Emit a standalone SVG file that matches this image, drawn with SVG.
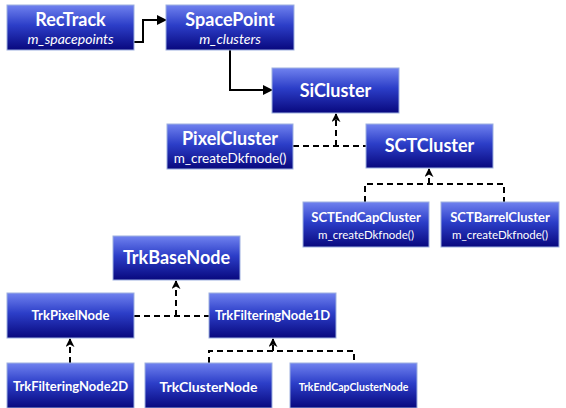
<svg xmlns="http://www.w3.org/2000/svg" width="566" height="408" viewBox="0 0 566 408">
  <defs>
    <linearGradient id="boxFill" x1="0" y1="0" x2="0" y2="1">
      <stop offset="0" stop-color="#7082ef"/>
      <stop offset="0.45" stop-color="#2c3ec8"/>
      <stop offset="1" stop-color="#08087e"/>
    </linearGradient>
    <marker id="arrow" viewBox="0 0 10 10" refX="9" refY="5" markerWidth="5" markerHeight="5" orient="auto">
      <path d="M0,0 L10,5 L0,10 z" fill="#000"/>
    </marker>
    <marker id="arrowSmall" viewBox="0 0 10 10" refX="9" refY="5" markerWidth="4.5" markerHeight="4.5" orient="auto">
      <path d="M0,0 L10,5 L0,10 L3,5 z" fill="#000"/>
    </marker>
  </defs>
  <style>
    .box { fill: url(#boxFill); stroke: #9db0e0; stroke-width: 1; }
    .title { font-family: Lato, "Open Sans", "Liberation Sans", sans-serif; font-weight: bold; fill: #fff; text-anchor: middle; }
    .t18 { font-size: 18px; }
    .t13 { font-size: 13px; }
    .t10 { font-size: 10.5px; }
    .sub { font-family: Lato, "Open Sans", "Liberation Sans", sans-serif; fill: #fff; text-anchor: middle; font-size: 13.5px; }
    .subs { font-size: 11.5px; }
    .ital { font-style: italic; font-size: 14px; }
    .solid { fill: none; stroke: #000; stroke-width: 2; marker-end: url(#arrow); }
    .dash { fill: none; stroke: #000; stroke-width: 2; stroke-dasharray: 6 4; }
    .dashArrow { fill: none; stroke: #000; stroke-width: 2; stroke-dasharray: 6 4; marker-end: url(#arrowSmall); }
  </style>

  <!-- connectors -->
  <g id="connectors">
    <path class="solid" d="M122,42 H143 V20 H166"/>
    <path class="solid" d="M230,50 V90 H272"/>
    <path class="dash" d="M293,146 H366"/>
    <path class="dashArrow" d="M336,146 V114"/>
    <path class="dash" d="M365,202 V184 H504 V202"/>
    <path class="dashArrow" d="M429,184 V169"/>
    <path class="dash" d="M134,316 H209"/>
    <path class="dashArrow" d="M176,316 V281"/>
    <path class="dashArrow" d="M70,363 V339"/>
    <path class="dash" d="M209,363 V351 H354 V363"/>
    <path class="dashArrow" d="M273,351 V339"/>
  </g>

  <g id="RecTrack">
    <rect class="box" x="7" y="5" width="127" height="45"/>
    <text class="title t18" x="70.5" y="26">RecTrack</text>
    <text class="sub ital" x="70.5" y="44">m_spacepoints</text>
  </g>
  <g id="SpacePoint">
    <rect class="box" x="166" y="5" width="128" height="45"/>
    <text class="title t18" x="230" y="26">SpacePoint</text>
    <text class="sub ital" x="230" y="44">m_clusters</text>
  </g>
  <g id="SiCluster">
    <rect class="box" x="272" y="68" width="127" height="45"/>
    <text class="title t18" x="335.5" y="97">SiCluster</text>
  </g>
  <g id="PixelCluster">
    <rect class="box" x="167" y="124" width="126" height="45"/>
    <text class="title t18" x="230" y="145">PixelCluster</text>
    <text class="sub" x="230" y="163">m_createDkfnode()</text>
  </g>
  <g id="SCTCluster">
    <rect class="box" x="366" y="124" width="127" height="44"/>
    <text class="title t18" x="429.5" y="152">SCTCluster</text>
  </g>
  <g id="SCTEndCapCluster">
    <rect class="box" x="303" y="202" width="126" height="45"/>
    <text class="title t13" x="366" y="222">SCTEndCapCluster</text>
    <text class="sub subs" x="366" y="239">m_createDkfnode()</text>
  </g>
  <g id="SCTBarrelCluster">
    <rect class="box" x="441" y="202" width="118" height="45"/>
    <text class="title t13" x="500" y="222">SCTBarrelCluster</text>
    <text class="sub subs" x="500" y="239">m_createDkfnode()</text>
  </g>
  <g id="TrkBaseNode">
    <rect class="box" x="113" y="236" width="127" height="44"/>
    <text class="title t18" x="176.5" y="264">TrkBaseNode</text>
  </g>
  <g id="TrkPixelNode">
    <rect class="box" x="7" y="293" width="127" height="45"/>
    <text class="title t13" x="70.5" y="320">TrkPixelNode</text>
  </g>
  <g id="TrkFilteringNode1D">
    <rect class="box" x="209" y="293" width="127" height="45"/>
    <text class="title t13" x="272.5" y="320">TrkFilteringNode1D</text>
  </g>
  <g id="TrkFilteringNode2D">
    <rect class="box" x="7" y="363" width="127" height="45"/>
    <text class="title t13" x="70.5" y="391">TrkFilteringNode2D</text>
  </g>
  <g id="TrkClusterNode">
    <rect class="box" x="145" y="363" width="127" height="45"/>
    <text class="title" x="208.5" y="392" style="font-size:14px">TrkClusterNode</text>
  </g>
  <g id="TrkEndCapClusterNode">
    <rect class="box" x="290" y="363" width="127" height="45"/>
    <text class="title t10" x="353.5" y="391">TrkEndCapClusterNode</text>
  </g>
</svg>
